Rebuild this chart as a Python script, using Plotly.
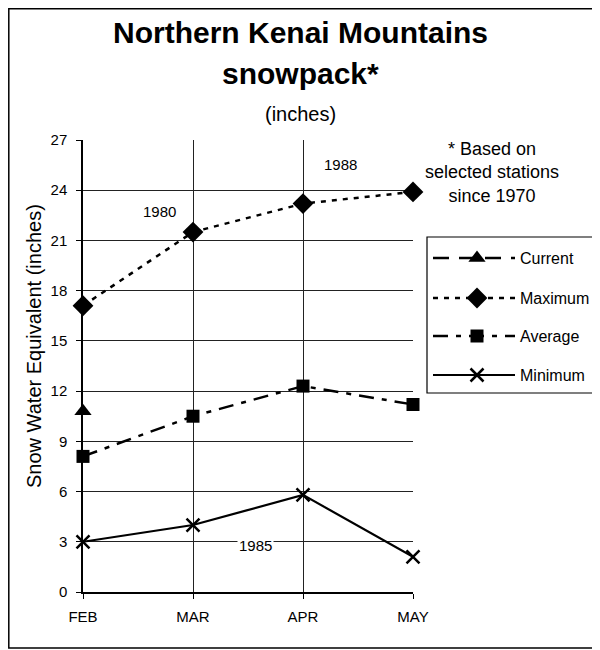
import plotly.graph_objects as go

# ---- data ----
months = ['FEB', 'MAR', 'APR', 'MAY']
current = [10.8]
maximum = [17.1, 21.5, 23.2, 23.9]
average = [8.1, 10.5, 12.3, 11.2]
minimum = [3.0, 4.0, 5.8, 2.1]

series_names = ['Current', 'Maximum', 'Average', 'Minimum']
symbols = ['triangle-up', 'diamond', 'square', 'x-thin-open']
marker_sizes = [15, 16, 13, 13]
dashes = ['16px,10px', '5px,6px', '15px,8px,5px,8px', 'solid']
widths = [2.5, 2.5, 2.5, 2.2]

FONT = 'Arial, Liberation Sans, sans-serif'
W, H = 600, 650

fig = go.Figure()

for name, ys, sym, ms, dash, lw in zip(series_names, [current, maximum, average, minimum],
                                       symbols, marker_sizes, dashes, widths):
    mline = dict(width=2.5, color='black') if sym.startswith('x') else dict(width=0)
    fig.add_trace(go.Scatter(x=months[:len(ys)], y=ys, name=name,
                             mode='lines+markers' if len(ys) > 1 else 'markers',
                             cliponaxis=False, showlegend=False,
                             line=dict(color='black', width=lw, dash=dash),
                             marker=dict(symbol=sym, size=ms, color='black', line=mline)))

# hand-drawn legend on a pixel-coordinate overlay (x2/y2 = figure pixels)
leg_y = [250, 290, 328, 367]
for name, ly, sym, ms, dash, lw in zip(series_names, leg_y, symbols, marker_sizes, dashes, widths):
    fig.add_shape(type='line', xref='x2', yref='y2', x0=425, x1=507, y0=ly, y1=ly,
                  line=dict(color='black', width=lw, dash=dash))
    mline = dict(width=2.5, color='black') if sym.startswith('x') else dict(width=0)
    fig.add_trace(go.Scatter(x=[469], y=[ly], xaxis='x2', yaxis='y2', mode='markers',
                             cliponaxis=False, showlegend=False, hoverinfo='skip',
                             marker=dict(symbol=sym, size=ms, color='black', line=mline)))
    fig.add_annotation(xref='x2', yref='y2', x=510, y=ly, text=name, showarrow=False,
                       xanchor='left', yanchor='middle', font=dict(size=16, color='black'))
fig.add_shape(type='rect', xref='x2', yref='y2', x0=419, x1=585, y0=229, y1=385,
              line=dict(color='black', width=1.2))

# outer frame
fig.add_shape(type='rect', xref='x2', yref='y2', x0=0.8, x1=589, y0=0.8, y1=640,
              line=dict(color='black', width=1.5))

# titles and notes (pixel positions)
fig.add_annotation(xref='x2', yref='y2', x=292, y=24, text='<b>Northern Kenai Mountains</b>',
                   showarrow=False, font=dict(size=30, color='black'))
fig.add_annotation(xref='x2', yref='y2', x=292, y=65, text='<b>snowpack*</b>',
                   showarrow=False, font=dict(size=30, color='black'))
fig.add_annotation(xref='x2', yref='y2', x=292, y=106, text='(inches)',
                   showarrow=False, font=dict(size=20, color='black'))
fig.add_annotation(xref='x2', yref='y2', x=484, y=164,
                   text='* Based on<br>selected stations<br>since 1970',
                   showarrow=False, font=dict(size=18, color='black'))
fig.add_annotation(xref='x2', yref='y2', x=26, y=338, textangle=-90,
                   text='Snow Water Equivalent (inches)',
                   showarrow=False, font=dict(size=20, color='black'))

# year labels
fig.add_annotation(xref='x2', yref='y', x=151, y=22.75, text='1980', showarrow=False,
                   font=dict(size=15, color='black'))
fig.add_annotation(xref='x2', yref='y', x=332, y=25.55, text='1988', showarrow=False,
                   font=dict(size=15, color='black'))
fig.add_annotation(xref='x2', yref='y', x=247, y=2.75, text='1985', showarrow=False,
                   bgcolor='white', font=dict(size=15, color='black'))

fig.update_layout(
    width=W, height=H,
    margin=dict(l=0, r=0, t=0, b=0, autoexpand=False),
    paper_bgcolor='white', plot_bgcolor='rgba(0,0,0,0)',
    font=dict(family=FONT, color='black'),
    showlegend=False,
    xaxis=dict(type='category', range=[0, 3], domain=[75 / W, 405 / W],
               showgrid=True, gridcolor='#222', gridwidth=1,
               showline=True, linecolor='black', linewidth=1.5,
               ticks='outside', ticklen=5, tickcolor='black', ticklabelstandoff=5,
               tickfont=dict(size=15, color='black'), zeroline=False, automargin=False),
    yaxis=dict(range=[0, 27], dtick=3, domain=[(H - 584) / H, (H - 132) / H],
               showgrid=True, gridcolor='#222', gridwidth=1,
               showline=True, linecolor='black', linewidth=1.5,
               ticks='outside', ticklen=5, tickcolor='black', ticklabelstandoff=6,
               tickfont=dict(size=15, color='black'), zeroline=False, automargin=False),
    xaxis2=dict(range=[0, W], domain=[0, 1], visible=False, anchor='y2', automargin=False),
    yaxis2=dict(range=[H, 0], domain=[0, 1], visible=False, anchor='x2', automargin=False),
)

fig.write_html('out.html')
